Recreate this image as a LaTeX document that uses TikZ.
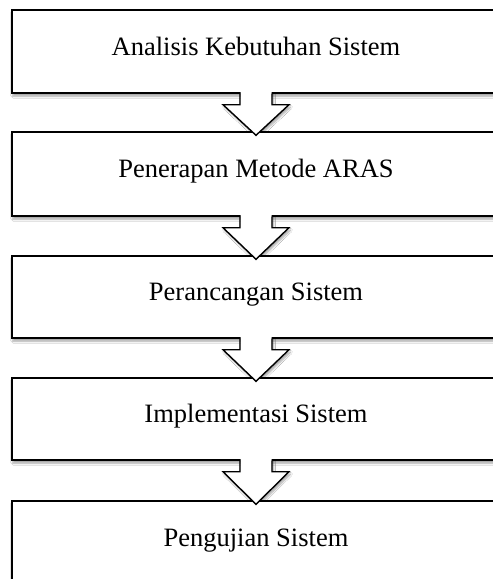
\documentclass[tikz,border=0pt]{standalone}
\usepackage{fontspec}
\setmainfont{Liberation Serif}
\usetikzlibrary{calc,shadows.blur,backgrounds}
\tikzset{
  stagebox/.style={draw=black, line width=1.4pt, fill=white, rectangle,
    minimum width=488pt, inner sep=0pt, text height=0.78em, text depth=0pt,
    font=\fontsize{26.5}{30}\selectfont},
  softshadow/.style={blur shadow={shadow xshift=1.5pt, shadow yshift=-2.5pt,
    shadow blur steps=6, shadow opacity=35}},
  arrowfill/.style={fill=white, draw=none},
  arrowline/.style={draw=black, line width=1.4pt, line join=miter}
}
\newcommand{\flowarrow}[2]{%
  \begin{pgfonlayer}{background}
  \path[softshadow] ($(#1.south)+(-16,-3)$) -- ($(#1.south)+(-16,11)$) -- ($(#1.south)+(-33,11)$)
    -- ($(#2.north)+(0,4)$) -- ($(#1.south)+(33,11)$) -- ($(#1.south)+(16,11)$)
    -- ($(#1.south)+(16,-3)$) -- cycle;
  \end{pgfonlayer}
  \path[arrowfill] ($(#1.south)+(-15.5,-3)$) -- ($(#1.south)+(-15.5,11)$) -- ($(#1.south)+(-33,11)$)
    -- ($(#2.north)+(0,4)$) -- ($(#1.south)+(33,11)$) -- ($(#1.south)+(15.5,11)$)
    -- ($(#1.south)+(15.5,-3)$) -- cycle;
  \draw[arrowline] ($(#1.south)+(-16,0)$) -- ($(#1.south)+(-16,11)$) -- ($(#1.south)+(-33,11)$)
    -- ($(#2.north)+(0,4)$) -- ($(#1.south)+(33,11)$) -- ($(#1.south)+(16,11)$)
    -- ($(#1.south)+(16,0)$);
}
\newcommand{\boxshadow}[1]{%
  \begin{pgfonlayer}{background}
  \path[softshadow] (#1.north west) rectangle (#1.south east);
  \end{pgfonlayer}
}
\begin{document}
\begin{tikzpicture}[x=1pt,y=-1pt]
  \useasboundingbox (0,0) rectangle (493,579);
  \begin{pgfonlayer}{background}
  \fill[white] (0,0) rectangle (493,579);
  \end{pgfonlayer}
  \node[stagebox, minimum height=83pt] (b1) at (256,51.5) {Analisis Kebutuhan Sistem};
  \node[stagebox, minimum height=84pt] (b2) at (256,174) {Penerapan Metode ARAS};
  \node[stagebox, minimum height=82pt] (b3) at (256,297) {Perancangan Sistem};
  \node[stagebox, minimum height=82pt] (b4) at (256,419) {Implementasi Sistem};
  \node[stagebox, minimum height=84pt] (b5) at (256,543) {Pengujian Sistem};
  \boxshadow{b1}
  \boxshadow{b2}
  \boxshadow{b3}
  \boxshadow{b4}
  \boxshadow{b5}
  \flowarrow{b1}{b2}
  \flowarrow{b2}{b3}
  \flowarrow{b3}{b4}
  \flowarrow{b4}{b5}
\end{tikzpicture}
\end{document}
